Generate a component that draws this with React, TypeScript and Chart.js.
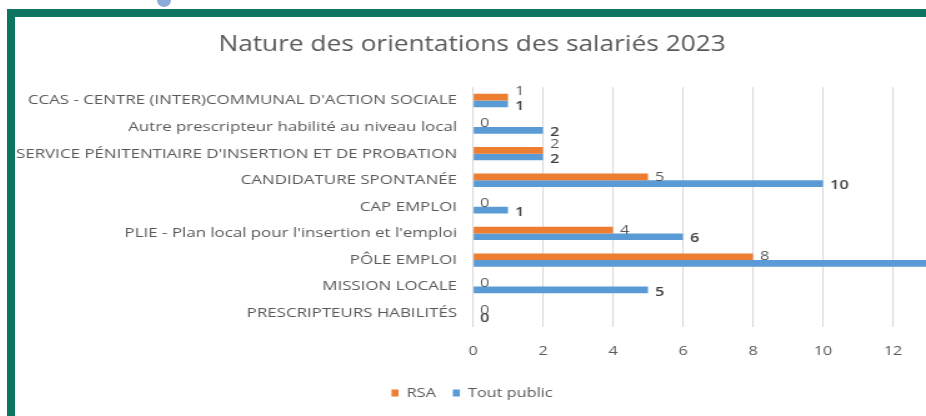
import React, { useEffect, useRef } from "react";
import { Chart, registerables } from "chart.js";

Chart.register(...registerables);

const TITLE = "Nature des orientations des salariés 2023";
const CATEGORIES = [
  "CCAS - CENTRE (INTER)COMMUNAL D'ACTION SOCIALE",
  "Autre prescripteur habilité au niveau local",
  "SERVICE PÉNITENTIAIRE D'INSERTION ET DE PROBATION",
  "CANDIDATURE SPONTANÉE",
  "CAP EMPLOI",
  "PLIE - Plan local pour l'insertion et l'emploi",
  "PÔLE EMPLOI",
  "MISSION LOCALE",
  "PRESCRIPTEURS HABILITÉS",
];
const SERIES_NAMES = ["RSA", "Tout public"];
const RSA = [1, 0, 2, 5, 0, 4, 8, 0, 0];
const TOUT_PUBLIC = [1, 2, 2, 10, 1, 6, 15, 5, 0];
const X_TICKS = [0, 2, 4, 6, 8, 10, 12];
const X_MAX = 13;

const FONT = "'Open Sans', 'DejaVu Sans', sans-serif";
const GREY = "#595959";
// horizontal stretch of the rendered chart (the reference is widened)
const SX = 1.25;
const CANVAS_W = 731;
const CANVAS_H = 399;

const labelPlugin = {
  id: "barValueLabels",
  afterDatasetsDraw(chart: any) {
    const ctx = chart.ctx;
    const area = chart.chartArea;
    const m0 = chart.getDatasetMeta(0);
    const m1 = chart.getDatasetMeta(1);
    chart.data.labels.forEach((_: any, i: number) => {
      const b0 = m0.data[i];
      const b1 = m1.data[i];
      const v0 = chart.data.datasets[0].data[i];
      const v1 = chart.data.datasets[1].data[i];
      const collide = v0 === v1 && v0 > 0;
      ctx.save();
      ctx.textAlign = "left";
      ctx.textBaseline = "middle";
      if (b0.x + 5 < area.right) {
        ctx.font = `13px ${FONT}`;
        ctx.fillStyle = GREY;
        ctx.fillText(String(v0), b0.x + 7 / SX, b0.y - (collide ? 6 : 0));
      }
      if (b1.x + 5 < area.right) {
        ctx.font = `600 13px ${FONT}`;
        ctx.fillStyle = "#404040";
        ctx.fillText(String(v1), b1.x + 7 / SX, b1.y + 2);
      }
      ctx.restore();
    });
  },
};

export default function App() {
  const ref = useRef<HTMLCanvasElement | null>(null);

  useEffect(() => {
    if (!ref.current) return;
    const chart = new Chart(ref.current, {
      type: "bar",
      data: {
        labels: CATEGORIES,
        datasets: [
          {
            label: SERIES_NAMES[0],
            data: RSA,
            backgroundColor: "#ED7D31",
            barPercentage: 1,
            categoryPercentage: 0.5,
          },
          {
            label: SERIES_NAMES[1],
            data: TOUT_PUBLIC,
            backgroundColor: "#5B9BD5",
            barPercentage: 1,
            categoryPercentage: 0.5,
          },
        ],
      },
      options: {
        indexAxis: "y",
        responsive: false,
        maintainAspectRatio: false,
        animation: false,
        layout: { padding: { left: 0, right: 1.4, top: 0, bottom: 6.5 } },
        plugins: {
          title: {
            display: true,
            text: TITLE,
            color: GREY,
            font: { family: FONT, size: 21, weight: "normal" },
            padding: { top: 15, bottom: 30 },
          },
          legend: {
            position: "bottom",
            labels: {
              boxWidth: 7 / SX,
              boxHeight: 7,
              color: GREY,
              font: { family: FONT, size: 13 },
              padding: 13.6,
            },
          },
          tooltip: { enabled: false },
        },
        scales: {
          x: {
            min: 0,
            max: X_MAX,
            afterBuildTicks: (s: any) => {
              s.ticks = X_TICKS.map((v) => ({ value: v }));
            },
            afterFit: (s: any) => {
              s.height = 46.4;
            },
            grid: { color: "#D9D9D9", drawTicks: false, lineWidth: 1.1 },
            border: { display: false },
            ticks: { color: GREY, font: { family: FONT, size: 13 }, padding: 17 },
          },
          y: {
            grid: { display: false, drawTicks: false },
            border: { display: false },
            ticks: {
              color: GREY,
              font: { family: FONT, size: 13.5 },
              padding: 16 / SX,
              autoSkip: false,
            },
            afterFit: (s: any) => {
              s.width = 457 / SX;
            },
          },
        },
      },
      plugins: [labelPlugin],
    });
    return () => chart.destroy();
  }, []);

  return (
    <div
      style={{
        position: "fixed",
        inset: 0,
        overflow: "hidden",
        background: "#ffffff",
      }}
    >
      <div
        style={{
          position: "absolute",
          left: 157,
          top: -7,
          width: 14,
          height: 14,
          borderRadius: "50%",
          background: "#8EAADB",
        }}
      />
      <div
        style={{
          position: "absolute",
          left: 7,
          top: 9,
          width: 1000,
          height: 500,
          borderLeft: "8px solid #0B7562",
          borderTop: "8px solid #0B7562",
        }}
      />
      <div
        style={{
          position: "absolute",
          left: 16,
          top: 17,
          width: CANVAS_W,
          height: CANVAS_H,
          transform: `scaleX(${SX})`,
          transformOrigin: "0 0",
        }}
      >
        <canvas ref={ref} width={CANVAS_W} height={CANVAS_H} style={{ display: "block" }} />
      </div>
    </div>
  );
}
